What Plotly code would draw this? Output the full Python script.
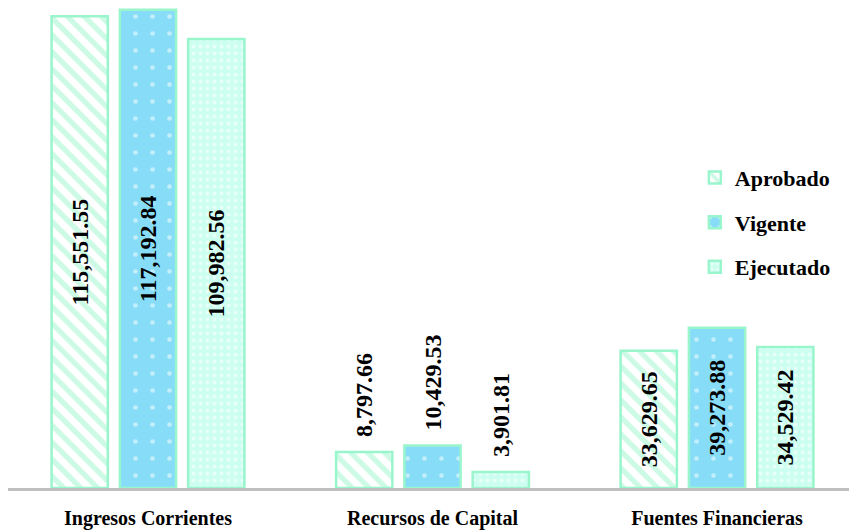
import plotly.graph_objects as go

categories = ["Ingresos Corrientes", "Recursos de Capital", "Fuentes Financieras"]
aprobado = [115551.55, 8797.66, 33629.65]
vigente = [117192.84, 10429.53, 39273.88]
ejecutado = [109982.56, 3901.81, 34529.42]

series = [
    ("Aprobado", aprobado, dict(bgcolor="white", fgcolor="#99F5CC", shape="\\", size=12, solidity=0.45)),
    ("Vigente", vigente, dict(bgcolor="#87DDF7", fgcolor="white", shape=".", size=17, solidity=0.06)),
    ("Ejecutado", ejecutado, dict(bgcolor="#CCFFF0", fgcolor="white", shape=".", size=7, solidity=0.25)),
]

font_family = "Liberation Serif"
NBSP = "\u00a0"

fig = go.Figure()
for i, (name, vals, pat) in enumerate(series):
    positions = ["inside" if v > 20000 else "outside" for v in vals]
    labels = [(f"{v:,.2f}" if p == "inside" else NBSP * 2 + f"{v:,.2f}") for v, p in zip(vals, positions)]
    fig.add_trace(go.Bar(
        name=name, x=categories, y=vals,
        text=labels,
        textposition=positions,
        insidetextanchor="middle",
        constraintext="none",
        textangle=-90,
        textfont=dict(family=font_family, size=24, color="black", weight="bold"),
        cliponaxis=False,
        marker=dict(color=pat["bgcolor"], pattern=pat,
                    line=dict(color="#99F5CC", width=2.5)),
        legendgroup=name,
    ))

fig.update_layout(
    width=849, height=524,
    margin=dict(l=0, r=0, t=0, b=44),
    paper_bgcolor="white", plot_bgcolor="white",
    barmode="group", bargap=0.28, bargroupgap=0.176,
    showlegend=True,
    legend=dict(x=0.809, y=0.69, xanchor="left", yanchor="top",
                font=dict(family=font_family, size=22, color="black", weight="bold"),
                bgcolor="rgba(0,0,0,0)", tracegroupgap=13, traceorder="grouped",
                itemwidth=30),
    font=dict(family=font_family),
)
fig.update_xaxes(showline=True, linecolor="#BFBFBF", linewidth=3, ticks="",
                 range=[-0.492, 2.492],
                 tickfont=dict(family=font_family, size=20, color="black", weight="bold"),
                 ticklabelstandoff=10)
fig.update_yaxes(range=[0, 117600], showgrid=False, showticklabels=False, zeroline=False)

fig.write_html("out.html")
